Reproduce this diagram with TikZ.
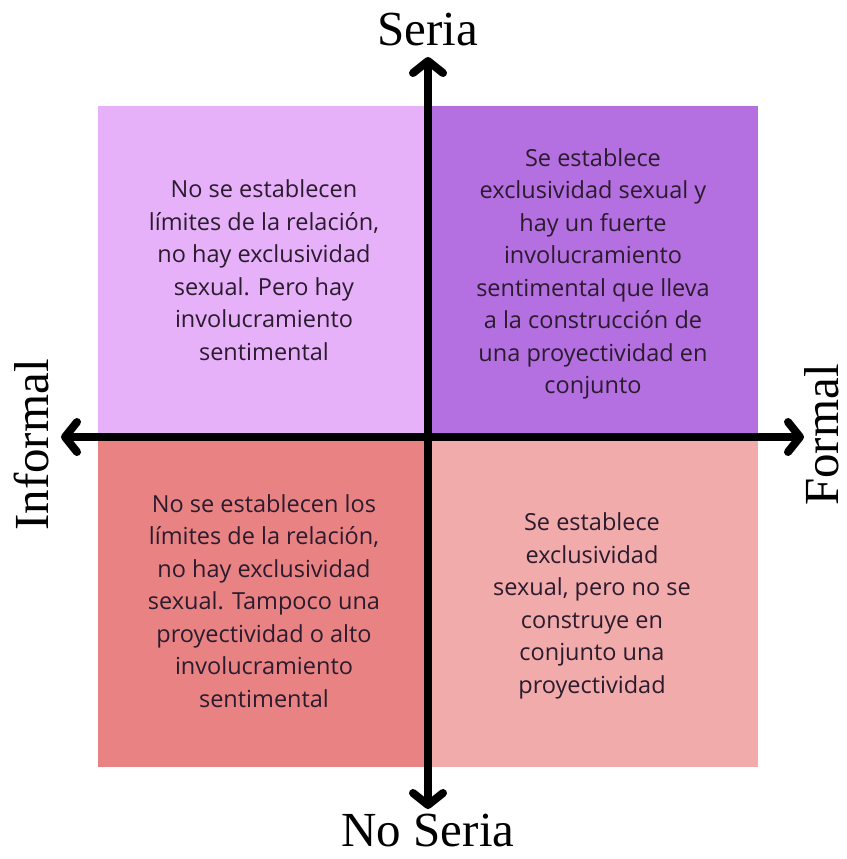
\documentclass[tikz,border=0pt]{standalone}
\usepackage{fontspec}
\setmainfont{Open Sans}
\newfontfamily\titlefont{Liberation Serif}
\usetikzlibrary{arrows.meta}
\definecolor{qtl}{HTML}{E6B1F9}
\definecolor{qtr}{HTML}{B46FE0}
\definecolor{qbl}{HTML}{E98383}
\definecolor{qbr}{HTML}{F2ABAB}
\definecolor{txt}{HTML}{2B1B2E}
\tikzset{
  quad/.style={draw=none, minimum width=330pt, minimum height=331pt, inner sep=0pt, anchor=center},
  body/.style={align=center, text=txt, font=\fontsize{23.5}{32.5}\selectfont},
  axislabel/.style={font=\titlefont\fontsize{49}{49}\selectfont, text=black, inner sep=0pt},
  axis/.style={line width=8pt, black, -{Straight Barb[length=12pt, width=30pt, round]}, line cap=butt}
}
\begin{document}
\begin{tikzpicture}[x=1pt, y=-1pt]
\useasboundingbox (0,0) rectangle (846,859);
\fill[white] (0,0) rectangle (846,859);
\node[quad, fill=qtl] (tl) at (263,271) {};
\node[quad, fill=qtr] (tr) at (592.5,271) {};
\node[quad, fill=qbl] (bl) at (263,601) {};
\node[quad, fill=qbr] (br) at (592.5,601) {};
\coordinate (c) at (428,437);
\coordinate (up) at (428,57);
\coordinate (down) at (428,809);
\coordinate (left) at (61,437);
\coordinate (right) at (804,437);
\draw[axis] (c) -- (up);
\draw[axis] (c) -- (down);
\draw[axis] (c) -- (left);
\draw[axis] (c) -- (right);
\node[body] (ttl) at (264,270) {No se establecen\\límites de la relación,\\no hay exclusividad\\sexual. Pero hay\\involucramiento\\sentimental};
\node[body] (ttr) at (593,274) {Se establece\\exclusividad sexual y\\hay un fuerte\\involucramiento\\sentimental que lleva\\a la construcción de\\una proyectividad en\\conjunto};
\node[body] (tbl) at (264,601) {No se establecen los\\límites de la relación,\\no hay exclusividad\\sexual. Tampoco una\\proyectividad o alto\\involucramiento\\sentimental};
\node[body] (tbr) at (592,606) {Se establece\\exclusividad\\sexual, pero no se\\construye en\\conjunto una\\proyectividad};
\node[axislabel] (seria) at (428,30) {Seria};
\node[axislabel] (noseria) at (428,831) {No Seria};
\node[axislabel, rotate=90] (informal) at (31,445) {Informal};
\node[axislabel, rotate=90] (formal) at (822,435) {Formal};
\end{tikzpicture}
\end{document}
